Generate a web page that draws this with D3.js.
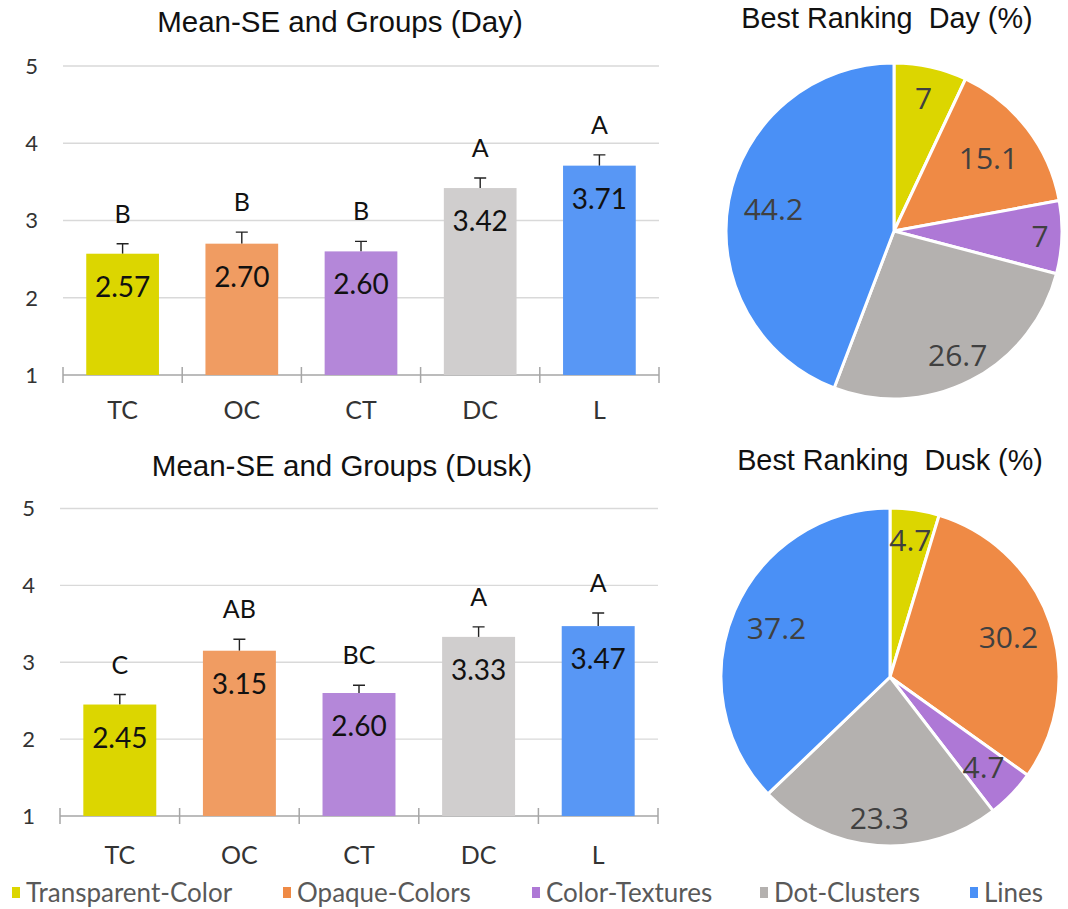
<!DOCTYPE html>
<html>
<head>
<meta charset="utf-8">
<script src="https://cdn.jsdelivr.net/npm/d3@7"></script>
<style>
  html, body { margin: 0; padding: 0; background: #fff; }
  svg { display: block; }
</style>
</head>
<body>
<svg id="chart" width="1068" height="909"></svg>
<script>
// ---- data ----
const categories = ["TC", "OC", "CT", "DC", "L"];
const seriesNames = ["Transparent-Color", "Opaque-Colors", "Color-Textures", "Dot-Clusters", "Lines"];
const yTicks = [1, 2, 3, 4, 5];

const dayMeans = [2.57, 2.70, 2.60, 3.42, 3.71];
const daySE = [0.13, 0.15, 0.13, 0.13, 0.14];
const dayGroups = ["B", "B", "B", "A", "A"];

const duskMeans = [2.45, 3.15, 2.60, 3.33, 3.47];
const duskSE = [0.13, 0.15, 0.10, 0.13, 0.17];
const duskGroups = ["C", "AB", "BC", "A", "A"];

const dayBest = [7, 15.1, 7, 26.7, 44.2];
const duskBest = [4.7, 30.2, 4.7, 23.3, 37.2];

// ---- styling ----
const barColors = ["#DCD600", "#F09C62", "#B487D9", "#D0CECE", "#5897F5"];
const pieColors = ["#DCD600", "#EF8A45", "#AE78D6", "#B4B1AF", "#4A90F6"];
const labelFont = "Lato, 'Liberation Sans', sans-serif";
const titleFont = "'Liberation Sans', Arial, sans-serif";

const svg = d3.select("#chart");

function barChart(opt) {
  const g = svg.append("g");
  const x = d3.scaleBand().domain(categories).range([opt.left, opt.right])
    .paddingInner(0.39).paddingOuter(0.195);
  const y = d3.scaleLinear().domain([1, 5]).range([opt.bottom, opt.top]);

  g.append("text")
    .attr("x", opt.titleX).attr("y", opt.titleY)
    .attr("text-anchor", "middle")
    .style("font-family", titleFont).style("font-size", "29.5px").style("fill", "#111")
    .text(opt.title);

  // horizontal gridlines
  g.selectAll(".grid").data(yTicks.filter(t => t > 1)).join("line")
    .attr("x1", opt.left).attr("x2", opt.right)
    .attr("y1", d => y(d)).attr("y2", d => y(d))
    .attr("stroke", "#D9D9D9").attr("stroke-width", 1.4);

  // value axis labels
  g.selectAll(".ytl").data(yTicks).join("text")
    .attr("x", opt.yLabelX).attr("y", d => y(d))
    .attr("dy", "0.36em").attr("text-anchor", "end")
    .style("font-family", labelFont).style("font-size", "22px").style("fill", "#333")
    .text(d => d);

  // category axis
  const xAxis = d3.axisBottom(x).tickSize(0).tickPadding(0);
  const ax = g.append("g").attr("transform", `translate(0,${opt.bottom})`).call(xAxis);
  ax.select(".domain").remove();
  ax.selectAll("text")
    .attr("y", opt.catLabelDy)
    .style("font-family", labelFont).style("font-size", "25px").style("fill", "#333");
  g.append("line")
    .attr("x1", opt.left).attr("x2", opt.right)
    .attr("y1", opt.bottom).attr("y2", opt.bottom)
    .attr("stroke", "#A6A6A6").attr("stroke-width", 1.5);
  const bounds = categories.map(c => x(c) - x.step() * x.paddingInner() / 2);
  bounds.push(opt.right);
  g.selectAll(".tk").data(bounds).join("line")
    .attr("x1", d => d).attr("x2", d => d)
    .attr("y1", opt.bottom - 8).attr("y2", opt.bottom + 8)
    .attr("stroke", "#A6A6A6").attr("stroke-width", 1.5);

  const rows = categories.map((c, i) => ({ c, i, m: opt.means[i], se: opt.se[i], grp: opt.groups[i] }));

  // error bars (plus direction)
  g.selectAll(".err").data(rows).join("path")
    .attr("d", d => {
      const cx = x(d.c) + x.bandwidth() / 2;
      return `M${cx},${y(d.m)}V${y(d.m + d.se)}M${cx - 6},${y(d.m + d.se)}H${cx + 6}`;
    })
    .attr("stroke", "#222").attr("stroke-width", 1.4).attr("fill", "none");

  // bars
  g.selectAll(".bar").data(rows).join("rect")
    .attr("x", d => x(d.c)).attr("width", x.bandwidth())
    .attr("y", d => y(d.m)).attr("height", d => y(1) - y(d.m))
    .attr("fill", d => barColors[d.i]);

  // mean labels inside the bars
  g.selectAll(".val").data(rows).join("text")
    .attr("x", d => x(d.c) + x.bandwidth() / 2).attr("y", d => y(d.m) + 43)
    .attr("text-anchor", "middle")
    .style("font-family", labelFont).style("font-size", "28px").style("fill", "#111")
    .text(d => d.m.toFixed(2));

  // grouping letters
  g.selectAll(".grp").data(rows).join("text")
    .attr("x", d => x(d.c) + x.bandwidth() / 2).attr("y", d => y(d.m + d.se) - 21)
    .attr("text-anchor", "middle")
    .style("font-family", labelFont).style("font-size", "25px").style("fill", "#111")
    .text(d => d.grp);
}

barChart({ title: "Mean-SE and Groups (Day)", titleX: 340, titleY: 32, left: 63, right: 659, top: 66, bottom: 375,
  yLabelX: 38, catLabelDy: 26, means: dayMeans, se: daySE, groups: dayGroups });
barChart({ title: "Mean-SE and Groups (Dusk)", titleX: 342, titleY: 476, left: 60, right: 658, top: 508.5, bottom: 816,
  yLabelX: 35, catLabelDy: 30, means: duskMeans, se: duskSE, groups: duskGroups });

function pieChart(opt) {
  const g = svg.append("g").attr("transform", `translate(${opt.cx},${opt.cy})`);
  svg.append("text")
    .attr("x", opt.titleX).attr("y", opt.titleY).attr("text-anchor", "middle")
    .style("font-family", titleFont).style("font-size", "28.8px").style("fill", "#111")
    .style("white-space", "pre")
    .text(opt.title);
  const arcs = d3.pie().sort(null).value(d => d)(opt.values);
  const arc = d3.arc().innerRadius(0).outerRadius(opt.r);
  g.selectAll("path").data(arcs).join("path")
    .attr("d", arc)
    .attr("fill", (d, i) => pieColors[i])
    .attr("stroke", "#fff").attr("stroke-width", 3).attr("stroke-linejoin", "round");
  g.selectAll("text").data(arcs).join("text")
    .attr("x", (d, i) => Math.sin((d.startAngle + d.endAngle) / 2) * opt.r * opt.labelR[i])
    .attr("y", (d, i) => -Math.cos((d.startAngle + d.endAngle) / 2) * opt.r * opt.labelR[i])
    .attr("dy", "0.36em").attr("text-anchor", "middle")
    .style("font-family", "'Open Sans', sans-serif").style("font-size", "30px").style("fill", "#404040")
    .text(d => d.data);
}

pieChart({ title: "Best Ranking  Day (%)", titleX: 887, titleY: 28, cx: 894, cy: 231, r: 168,
  values: dayBest, labelR: [0.81, 0.71, 0.87, 0.83, 0.73] });
pieChart({ title: "Best Ranking  Dusk (%)", titleX: 890, titleY: 470, cx: 890, cy: 677, r: 169,
  values: duskBest, labelR: [0.82, 0.74, 0.77, 0.84, 0.73] });

// legend
const legendX = [12, 283, 532, 760, 970];
const lg = svg.append("g").attr("transform", "translate(0,893)");
const items = lg.selectAll("g").data(seriesNames).join("g")
  .attr("transform", (d, i) => `translate(${legendX[i]},0)`);
items.append("rect").attr("x", 0).attr("y", -6).attr("width", 8).attr("height", 11)
  .attr("fill", (d, i) => pieColors[i]);
items.append("text").attr("x", 14).attr("y", 0).attr("dy", "0.36em")
  .style("font-family", labelFont).style("font-size", "26px").style("fill", "#595959")
  .text(d => d);
</script>
</body>
</html>
